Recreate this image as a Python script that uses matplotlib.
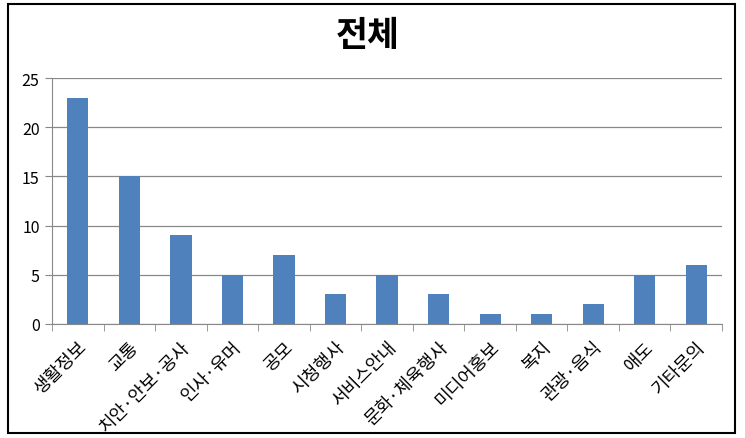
import numpy as np
import matplotlib.pyplot as plt
from matplotlib.patches import Rectangle

plt.rcParams['font.family'] = ['Noto Sans CJK KR', 'DejaVu Sans']

categories = ['생활정보', '교통', '치안·안보·공사', '인사·유머', '공모', '시청행사', '서비스안내',
              '문화·체육행사', '미디어홍보', '복지', '관광·음식', '애도', '기타문의']
values = [23, 15, 9, 5, 7, 3, 5, 3, 1, 1, 2, 5, 6]
yticks = [0, 5, 10, 15, 20, 25]

fig = plt.figure(figsize=(7.45, 4.39), dpi=100)
ax = fig.add_axes([0.070, 0.26, 0.899, 0.56])

x = np.arange(len(categories))
ax.bar(x, values, width=0.41, color='#4F81BD', zorder=3)

ax.set_xlim(-0.5, len(categories) - 0.5)
ax.set_ylim(0, 25)
ax.set_yticks(yticks)
ax.yaxis.grid(True, color='#888888', linewidth=0.9, zorder=0)
ax.tick_params(axis='y', length=5, color='#888888', labelsize=11.5, pad=4)

# category boundary ticks on the x axis
ax.set_xticks(np.arange(len(categories) + 1) - 0.5, minor=True)
ax.set_xticks(x)
ax.set_xticklabels(categories, rotation=45, ha='right', rotation_mode='anchor', fontsize=13)
ax.tick_params(axis='x', which='major', length=0, pad=10)
ax.tick_params(axis='x', which='minor', length=5, color='#888888')

for s in ['top', 'right']:
    ax.spines[s].set_visible(False)
for s in ['left', 'bottom']:
    ax.spines[s].set_color('#888888')

fig.text(0.493, 0.918, '전체', ha='center', va='center', fontsize=25, fontweight='bold')

fig.patches.append(Rectangle((0.011, 0.012), 0.976, 0.976, transform=fig.transFigure,
                             fill=False, edgecolor='black', linewidth=1.5))

fig.savefig('out.png', dpi=100)
